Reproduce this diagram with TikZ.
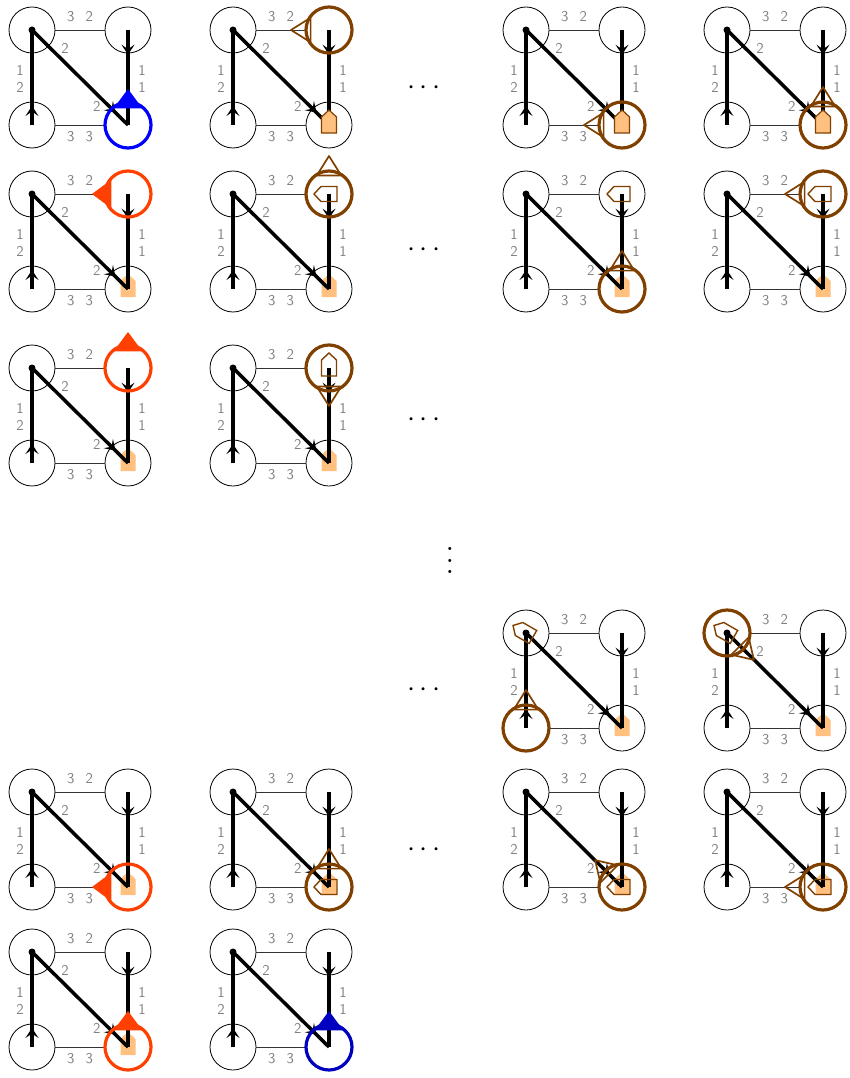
\documentclass[tikz,border=0pt]{standalone}
\usepackage{fontspec}
\usetikzlibrary{arrows.meta, decorations.markings, backgrounds}

\definecolor{bleu}{RGB}{0,0,255}
\definecolor{bleufonce}{RGB}{0,0,192}
\definecolor{rouge}{RGB}{255,64,0}
\definecolor{brun}{RGB}{128,64,0}
\definecolor{orangeclair}{RGB}{255,192,128}

\tikzset{
  sommet/.style={circle, draw, line width=0.8pt, minimum size=46pt, inner sep=0pt},
  fin/.style={line width=0.8pt, black!80},
  epais/.style={line width=3.5pt},
  port/.style={text=gray, font=\sffamily\fontsize{15}{17}\selectfont, inner sep=0pt},
  fleche/.style={postaction={decorate}, decoration={markings,
      mark=at position #1 with {\arrow{Stealth[length=10pt, width=13pt, inset=4.5pt]}}}},
  maisonsous/.style={fill=orangeclair, draw=none},
  maisonpose/.style={fill=orangeclair, draw=brun, line width=1.2pt},
  maisoncreuse/.style={draw=brun, line width=1.4pt},
  pics/agentplein/.style 2 args={code={
      \draw[#1, line width=3.2pt] (0,0) circle[radius=23];
      \fill[#1, rotate=#2] (36,0) -- (16.6,14.4) -- (16.6,-14.4) -- cycle;}},
  pics/agentcreux/.style 2 args={code={
      \draw[#1, line width=3.2pt] (0,0) circle[radius=23];
      \draw[#1, line width=1.7pt, line join=round, rotate=#2] (38,0) -- (18.4,12.3) -- (18.4,-12.3) -- cycle;}},
  pics/maison/.style 2 args={code={
      \draw[#2, rotate=#1] (15,0) -- (8,7.5) -- (-8,7.5) -- (-8,-7.5) -- (8,-7.5) -- cycle;}},
}

% un graphe : nom, x, y du sommet haut gauche
\newcommand{\graphe}[3]{%
  \begin{scope}[shift={(#2,#3)}]
    % sommets
    \node[sommet] (#1a) at (0,0) {};
    \node[sommet] (#1b) at (96,0) {};
    \node[sommet] (#1c) at (0,95) {};
    \node[sommet] (#1d) at (96,95) {};
    % aretes
    \draw[fin] (#1a) -- (#1b);
    \draw[fin] (#1c) -- (#1d);
    \draw[epais, fleche=0.2] (#1c.center) -- (#1a.center);
    \draw[epais, fleche=0.26] (#1b.center) -- (#1d.center);
    \draw[epais, fleche=0.87] (#1a.center) -- (#1d.center);
    \fill (#1a.center) circle[radius=3.5];
    % ports
    \foreach \p/\x/\y [count=\k] in {3/38.7/-13.3, 2/57.3/-13.3, 1/-12/40, 2/-12/57,
        1/110/40, 1/110/57, 3/38.7/106.7, 3/57.3/106.7, 2/33/18.3, 2/64.7/76.7}
      \node[port] (#1p\k) at (\x,\y) {\p};
  \end{scope}}

\begin{document}
\begin{tikzpicture}[x=1pt, y=-1pt]
\useasboundingbox (0,0) rectangle (849,1078);

% ligne 1
\graphe{p11}{32}{30}
\pic at (p11d) {agentplein={bleu}{90}};
\graphe{p12}{233}{30}
\pic at (p12b) {agentcreux={brun}{180}};
\pic at (p12d) {maison={90}{maisonpose}};
\graphe{p13}{526}{30}
\pic at (p13d) {agentcreux={brun}{180}};
\pic at (p13d) {maison={90}{maisonpose}};
\graphe{p14}{727}{30}
\pic at (p14d) {agentcreux={brun}{90}};
\pic at (p14d) {maison={90}{maisonpose}};

% ligne 2
\graphe{p21}{32}{194}
\pic at (p21b) {agentplein={rouge}{180}};
\graphe{p22}{233}{194}
\pic at (p22b) {agentcreux={brun}{90}};
\pic at (p22b) {maison={180}{maisoncreuse}};
\graphe{p23}{526}{194}
\pic at (p23b) {maison={180}{maisoncreuse}};
\pic at (p23d) {agentcreux={brun}{90}};
\graphe{p24}{727}{194}
\pic at (p24b) {agentcreux={brun}{180}};
\pic at (p24b) {maison={180}{maisoncreuse}};

% ligne 3
\graphe{p31}{32}{368}
\pic at (p31b) {agentplein={rouge}{90}};
\graphe{p32}{233}{368}
\pic at (p32b) {agentcreux={brun}{270}};
\pic at (p32b) {maison={90}{maisoncreuse}};

% ligne 4
\graphe{p43}{526}{633}
\pic at (p43c) {agentcreux={brun}{90}};
\pic at (p43a) {maison={150}{maisoncreuse}};
\graphe{p44}{727}{633}
\pic at (p44a) {agentcreux={brun}{-45}};
\pic at (p44a) {maison={150}{maisoncreuse}};

% ligne 5
\graphe{p51}{32}{792}
\pic at (p51d) {agentplein={rouge}{180}};
\graphe{p52}{233}{792}
\pic at (p52d) {agentcreux={brun}{90}};
\pic at (p52d) {maison={180}{maisoncreuse}};
\graphe{p53}{526}{792}
\pic at (p53d) {agentcreux={brun}{135}};
\pic at (p53d) {maison={180}{maisoncreuse}};
\graphe{p54}{727}{792}
\pic at (p54d) {agentcreux={brun}{180}};
\pic at (p54d) {maison={180}{maisoncreuse}};

% ligne 6
\graphe{p61}{32}{952}
\pic at (p61d) {agentplein={rouge}{90}};
\graphe{p62}{233}{952}
\pic at (p62d) {agentplein={bleufonce}{90}};

% maisons sous les aretes
\begin{scope}[on background layer]
  \foreach \g in {p21,p22,p23,p24,p31,p32,p43,p44,p51,p52,p53,p54,p61}
    \pic at (\g d) {maison={90}{maisonsous}};
\end{scope}

% points de suspension
\foreach \y [count=\k] in {88,250,420,690,850}
  \node[scale=2.9] (h\k) at (424,\y) {$\cdots$};
\node[scale=2.9] (v1) at (450,552) {$\vdots$};
\end{tikzpicture}
\end{document}
